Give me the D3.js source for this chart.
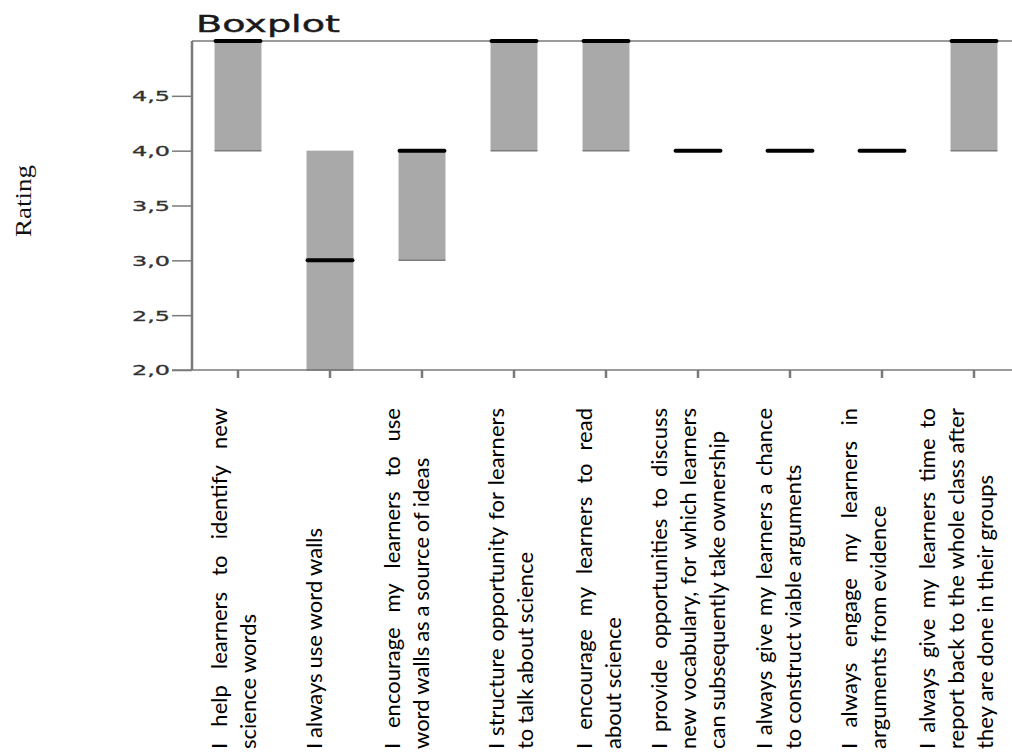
<!DOCTYPE html>
<html><head><meta charset="utf-8">
<script src="https://cdn.jsdelivr.net/npm/d3@7"></script>
<style>body{margin:0;background:#fff}svg{display:block}</style>
</head><body><svg id="c" width="1012" height="753"></svg>
<script>
// ---- data ----
const categories = ["Q1","Q2","Q3","Q4","Q5","Q6","Q7","Q8","Q9"];
const q1Values     = [4, 2, 3, 4, 4, 4, 4, 4, 4];
const medianValues = [5, 3, 4, 5, 5, 4, 4, 4, 5];
const q3Values     = [5, 4, 4, 5, 5, 4, 4, 4, 5];
const yTicks = [2.0, 2.5, 3.0, 3.5, 4.0, 4.5];
const labelLines = [
  ["I help learners to identify new", "science words"],
  ["I always use word walls"],
  ["I encourage my learners to use", "word walls as a source of ideas"],
  ["I structure opportunity for learners", "to talk about science"],
  ["I encourage my learners to read", "about science"],
  ["I provide opportunities to discuss", "new vocabulary, for which learners", "can subsequently take ownership"],
  ["I always give my learners a chance", "to construct viable arguments"],
  ["I always engage my learners in", "arguments from evidence"],
  ["I always give my learners time to", "report back to the whole class after", "they are done in their groups"]
];
// layout nudges for label blocks (px, relative to tick)
const labelShift = [-11, -8, -22, -10, -14, -31, -18, -25, -39];

(function () {
const svg = d3.select("#c");
const mLeft = 192, mTop = 41, mBottom = 370, mRight = 1020;
const x = d3.scaleBand().domain(categories).range([mLeft, mRight]).paddingInner(0.49).paddingOuter(0.245);
const y = d3.scaleLinear().domain([2, 5]).range([mBottom, mTop]);

// title
svg.append("text").attr("x", 196).attr("y", 32)
  .attr("font-family", "DejaVu Sans").attr("font-size", 23).attr("fill", "#1a1a1a")
  .attr("stroke", "#1a1a1a").attr("stroke-width", 0.4)
  .attr("textLength", 144).attr("lengthAdjust", "spacingAndGlyphs").text("Boxplot");

// y title
svg.append("text").attr("transform", "translate(31,237) rotate(-90)")
  .attr("font-family", "Liberation Serif").attr("font-size", 24).attr("fill", "#111")
  .attr("textLength", 72).attr("lengthAdjust", "spacingAndGlyphs").text("Rating");

// boxes
const boxes = svg.append("g");
categories.forEach((c, i) => {
  const x0 = x(c), w = x.bandwidth();
  if (q3Values[i] > q1Values[i]) {
    boxes.append("rect").attr("x", x0).attr("y", y(q3Values[i]))
      .attr("width", w).attr("height", y(q1Values[i]) - y(q3Values[i]))
      .attr("fill", "#a9a9a9");
    boxes.append("line").attr("x1", x0).attr("x2", x0 + w)
      .attr("y1", y(q1Values[i])).attr("y2", y(q1Values[i]))
      .attr("stroke", "#7d7d7d").attr("stroke-width", 1.5);
  }
});

// axes
const axisColor = "#7a7a7a";
svg.append("line").attr("x1", mLeft).attr("x2", 1012).attr("y1", mTop).attr("y2", mTop)
  .attr("stroke", axisColor).attr("stroke-width", 1.5);
svg.append("line").attr("x1", mLeft).attr("x2", mLeft).attr("y1", mTop).attr("y2", mBottom)
  .attr("stroke", axisColor).attr("stroke-width", 2.5);

const yAxis = svg.append("g").attr("transform", `translate(${mLeft},0)`)
  .call(d3.axisLeft(y).tickValues(yTicks).tickSize(20).tickFormat(d3.format(".1f")));
yAxis.select(".domain").remove();
yAxis.selectAll(".tick line").attr("stroke", axisColor).attr("stroke-width", 1.5);
yAxis.selectAll(".tick text")
  .attr("font-family", "DejaVu Sans").attr("font-size", 14).attr("fill", "#333")
  .attr("stroke", "#333").attr("stroke-width", 0.3)
  .attr("x", -22).attr("dy", "0.35em")
  .attr("textLength", 38).attr("lengthAdjust", "spacingAndGlyphs")
  .text(d => d3.format(".1f")(d).replace(".", ","));

svg.append("line").attr("x1", 172).attr("x2", 1012).attr("y1", mBottom).attr("y2", mBottom)
  .attr("stroke", axisColor).attr("stroke-width", 1.5);

const xAxis = svg.append("g").attr("transform", `translate(0,${mBottom})`)
  .call(d3.axisBottom(x).tickSize(8).tickFormat(""));
xAxis.select(".domain").remove();
xAxis.selectAll(".tick line").attr("stroke", axisColor).attr("stroke-width", 2.5);

// medians
categories.forEach((c, i) => {
  svg.append("line").attr("x1", x(c) + 1).attr("x2", x(c) + x.bandwidth() - 1)
    .attr("y1", y(medianValues[i])).attr("y2", y(medianValues[i]))
    .attr("stroke", "#000").attr("stroke-width", 4).attr("stroke-linecap", "round");
});

// category labels (rotated, justified)
const lineLen = 341, lineGap = 29, fontSize = 22;
categories.forEach((c, i) => {
  const cx = x(c) + x.bandwidth() / 2 + labelShift[i];
  const g = svg.append("g").attr("transform", `translate(${cx},749) rotate(-90)`);
  const lines = labelLines[i];
  lines.forEach((ln, k) => {
    const words = ln.split(" ");
    const isLast = k === lines.length - 1;
    const ws = words.map(w => {
      const t = g.append("text").attr("font-family", "Lato").attr("font-size", fontSize)
        .attr("fill", "#000").attr("y", k * lineGap).text(w);
      return { t, w: t.node().getComputedTextLength() };
    });
    const total = d3.sum(ws, d => d.w);
    const space = fontSize * 0.22;
    const gap = (!isLast && words.length > 1)
      ? Math.max(space * 0.8, (lineLen - total) / (words.length - 1)) : space;
    let pos = 0;
    ws.forEach(d => { d.t.attr("x", pos); pos += d.w + gap; });
  });
});
})();
</script></body></html>
